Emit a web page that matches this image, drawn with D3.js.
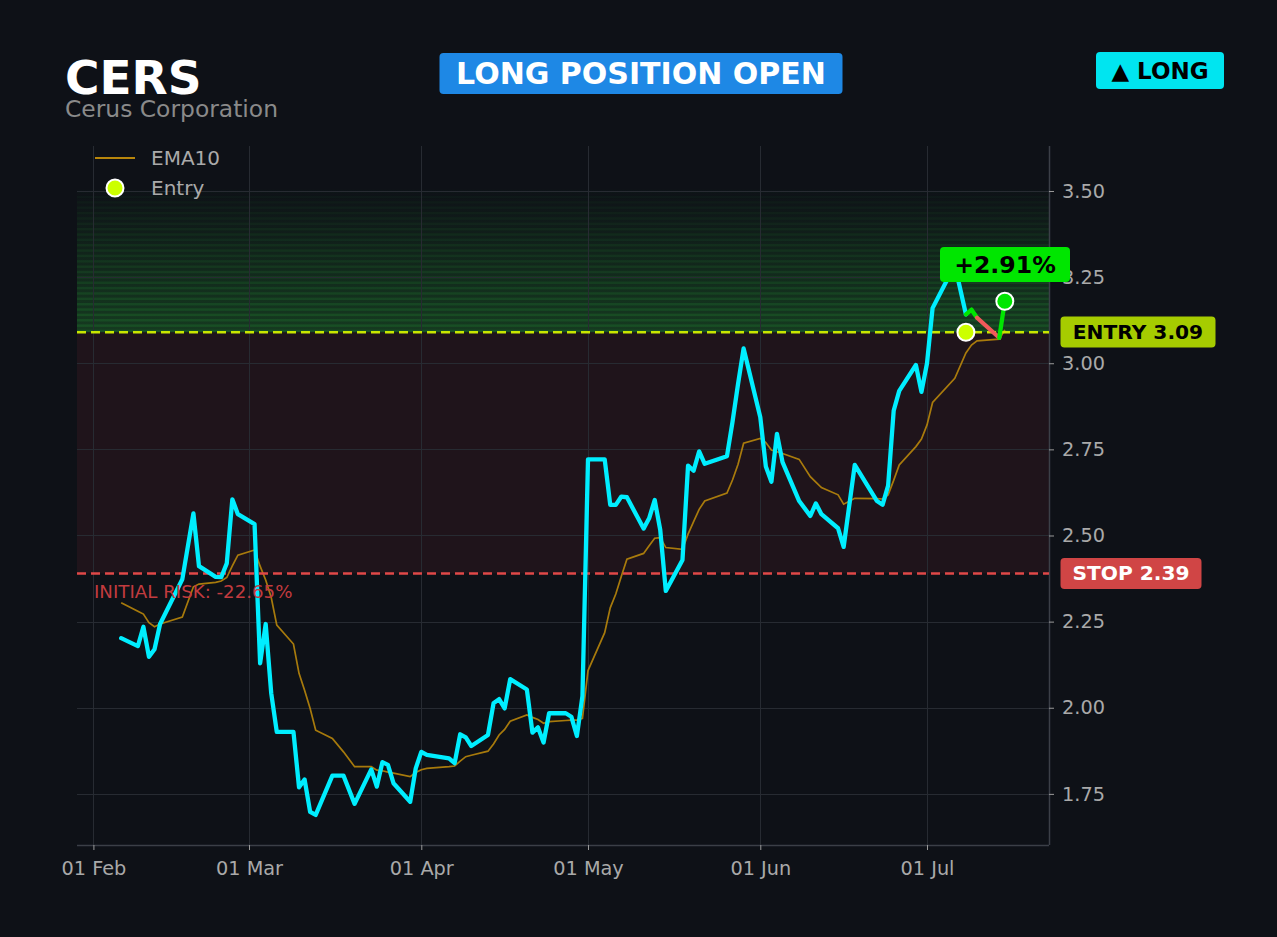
<!DOCTYPE html>
<html><head><meta charset="utf-8">
<script src="https://cdn.jsdelivr.net/npm/d3@7"></script>
<style>html,body{margin:0;padding:0;background:#0e1117;} svg{display:block;font-family:"DejaVu Sans",sans-serif;}</style>
</head><body><svg id="c" width="1277" height="937"></svg>
<script>
const ticker = "CERS";
const company = "Cerus Corporation";
const dates = ["2026-02-06","2026-02-09","2026-02-10","2026-02-11","2026-02-12","2026-02-13","2026-02-17","2026-02-19","2026-02-20","2026-02-23","2026-02-24","2026-02-25","2026-02-26","2026-02-27",
"2026-03-02","2026-03-03","2026-03-04","2026-03-05","2026-03-06","2026-03-09","2026-03-10","2026-03-11","2026-03-12","2026-03-13","2026-03-16","2026-03-18","2026-03-20","2026-03-23","2026-03-24","2026-03-25","2026-03-26","2026-03-27","2026-03-30","2026-03-31",
"2026-04-01","2026-04-02","2026-04-06","2026-04-07","2026-04-08","2026-04-09","2026-04-10","2026-04-13","2026-04-14","2026-04-15","2026-04-16","2026-04-17","2026-04-20","2026-04-21","2026-04-22","2026-04-23","2026-04-24","2026-04-27","2026-04-28","2026-04-29","2026-04-30",
"2026-05-01","2026-05-04","2026-05-05","2026-05-06","2026-05-07","2026-05-08","2026-05-11","2026-05-12","2026-05-13","2026-05-14","2026-05-15","2026-05-18","2026-05-19","2026-05-20","2026-05-21","2026-05-22","2026-05-26","2026-05-27","2026-05-28","2026-05-29",
"2026-06-01","2026-06-02","2026-06-03","2026-06-04","2026-06-05","2026-06-08","2026-06-10","2026-06-11","2026-06-12","2026-06-15","2026-06-16","2026-06-18","2026-06-22","2026-06-23","2026-06-24","2026-06-25","2026-06-26","2026-06-29","2026-06-30",
"2026-07-01","2026-07-02","2026-07-06","2026-07-08","2026-07-09","2026-07-10","2026-07-14","2026-07-15"];
const closes = [2.202,2.179,2.235,2.148,2.170,2.243,2.373,2.564,2.411,2.380,2.379,2.419,2.605,2.562,
2.533,2.129,2.243,2.042,1.930,1.930,1.769,1.792,1.698,1.689,1.803,1.803,1.721,1.821,1.771,1.842,1.834,1.781,1.727,1.824,
1.872,1.863,1.853,1.839,1.923,1.914,1.889,1.921,2.013,2.025,1.998,2.083,2.053,1.928,1.943,1.899,1.984,1.984,1.974,1.918,2.034,
2.721,2.721,2.589,2.589,2.613,2.611,2.520,2.550,2.603,2.516,2.339,2.429,2.703,2.688,2.744,2.708,2.730,2.830,2.940,3.043,
2.843,2.700,2.656,2.795,2.713,2.600,2.557,2.593,2.562,2.521,2.467,2.705,2.600,2.589,2.645,2.862,2.920,2.995,2.917,
3.000,3.160,3.285,3.142,3.155,3.132,3.074,3.180];
const ema10 = [2.305,2.280,2.272,2.247,2.235,2.243,2.263,2.351,2.359,2.364,2.368,2.378,2.412,2.443,
2.458,2.411,2.371,2.320,2.240,2.185,2.100,2.051,1.998,1.935,1.911,1.872,1.829,1.829,1.819,1.817,1.813,1.810,1.800,1.812,
1.820,1.824,1.829,1.831,1.845,1.858,1.862,1.874,1.895,1.921,1.937,1.961,1.979,1.972,1.966,1.955,1.960,1.963,1.964,1.964,1.969,
2.108,2.218,2.290,2.330,2.382,2.431,2.448,2.470,2.492,2.494,2.465,2.460,2.504,2.540,2.576,2.600,2.623,2.661,2.707,2.768,
2.782,2.770,2.748,2.743,2.738,2.721,2.671,2.655,2.639,2.618,2.591,2.608,2.607,2.606,2.618,2.660,2.705,2.758,2.780,
2.821,2.886,2.956,3.030,3.053,3.065,3.070,3.097];
const entryDate = "2026-07-08";
const entryPrice = 3.09;
const stopPrice = 2.39;
const targetZoneTop = 3.51;
const yTickValues = [1.75, 2.00, 2.25, 2.50, 2.75, 3.00, 3.25, 3.50];
const xTickLabels = ["01 Feb", "01 Mar", "01 Apr", "01 May", "01 Jun", "01 Jul"];
const yDomain = [1.6016, 3.6306];

const parse = d3.utcParse("%Y-%m-%d");
const data = dates.map((d, i) => ({date: parse(d), close: closes[i], ema: ema10[i]}));
const entryIdx = dates.indexOf(entryDate);
const last = data[data.length - 1];
const pnl = (last.close / entryPrice - 1) * 100;
const risk = (stopPrice / entryPrice - 1) * 100;

const L = 77, R = 1049, T = 146, B = 845;
const t0 = data[0].date, t1 = last.date, pad = (t1 - t0) * 0.05;
const x = d3.scaleUtc().domain([new Date(+t0 - pad), new Date(+t1 + pad)]).range([L, R]);
const y = d3.scaleLinear().domain(yDomain).range([B, T]);

const svg = d3.select("#c");
const defs = svg.append("defs");
svg.append("rect").attr("width", 1277).attr("height", 937).attr("fill", "#0e1117");

// risk zone
svg.append("rect").attr("x", L).attr("width", R - L)
  .attr("y", y(entryPrice)).attr("height", y(stopPrice) - y(entryPrice))
  .attr("fill", "#dc3c46").attr("opacity", 0.085);

// target gradient band
const nStrips = 27;
const stripVals = d3.range(nStrips + 1).map(i => entryPrice + (targetZoneTop - entryPrice) * i / nStrips);
const lg = defs.append("linearGradient").attr("id", "bandGrad").attr("x1", 0).attr("x2", 0).attr("y1", 0).attr("y2", 1);
lg.append("stop").attr("offset", "0%").attr("stop-color", "#2ecc40").attr("stop-opacity", 0.0);
lg.append("stop").attr("offset", "100%").attr("stop-color", "#2ecc40").attr("stop-opacity", 0.22);
const band = svg.append("g");
band.append("rect").attr("x", L).attr("width", R - L)
  .attr("y", y(targetZoneTop)).attr("height", y(entryPrice) - y(targetZoneTop))
  .attr("fill", "url(#bandGrad)");
for (let i = 0; i < nStrips; i++) {
  const yb = y(stripVals[i]);
  const frac = 1 - i / nStrips;
  band.append("rect").attr("x", L).attr("width", R - L)
    .attr("y", yb - 2.5).attr("height", 2.5)
    .attr("fill", "#2ecc40").attr("opacity", 0.02 + 0.14 * frac);
}

// grid
const grid = svg.append("g").attr("stroke", "#272b32").attr("stroke-width", 1);
const xTicks = xTickLabels.map(s => d3.utcParse("%d %b %Y")(s + " 2026"));
grid.selectAll("line.v").data(xTicks).join("line")
  .attr("x1", d => Math.round(x(d)) + 0.5).attr("x2", d => Math.round(x(d)) + 0.5).attr("y1", T).attr("y2", B);
grid.selectAll("line.h").data(yTickValues).join("line")
  .attr("y1", d => Math.round(y(d)) + 0.5).attr("y2", d => Math.round(y(d)) + 0.5).attr("x1", L).attr("x2", R);

// axes
const xAxis = d3.axisBottom(x).tickValues(xTicks).tickFormat(d3.utcFormat("%d %b")).tickSize(5).tickPadding(8);
const yAxis = d3.axisRight(y).tickValues(yTickValues).tickFormat(d3.format(".2f")).tickSize(5).tickPadding(8);
const gx = svg.append("g").attr("transform", `translate(0,${B})`).call(xAxis);
const gy = svg.append("g").attr("transform", `translate(${R},0)`).call(yAxis);
[gx, gy].forEach(g => {
  g.select(".domain").attr("stroke", "#3b3f47").attr("stroke-width", 1.5);
  g.selectAll(".tick line").attr("stroke", "#9a9a9a");
  g.selectAll(".tick text").attr("fill", "#a9a9a9").attr("font-size", 19.3).attr("font-family", "DejaVu Sans");
});
gy.select(".domain").attr("d", `M0.5,${T}V${B}`);
gx.select(".domain").attr("d", `M${L},0.5H${R}`);
gx.selectAll(".tick text").attr("dy", "0.9em");

// EMA
const line = d3.line().x(d => x(d.date));
svg.append("path").datum(data)
  .attr("d", line.y(d => y(d.ema)))
  .attr("fill", "none").attr("stroke", "#b8860b").attr("stroke-width", 1.7).attr("opacity", 0.9);

// stop / entry lines
svg.append("line").attr("x1", L).attr("x2", R).attr("y1", y(stopPrice)).attr("y2", y(stopPrice))
  .attr("stroke", "#e04848").attr("stroke-width", 2.5).attr("stroke-dasharray", "9,5");
svg.append("line").attr("x1", L).attr("x2", R).attr("y1", y(entryPrice)).attr("y2", y(entryPrice))
  .attr("stroke", "#c8e600").attr("stroke-width", 2.5).attr("stroke-dasharray", "9,5");

// price line (pre-entry)
const pline = d3.line().x(d => x(d.date)).y(d => y(d.close)).curve(d3.curveLinear);
svg.append("path").datum(data.slice(0, entryIdx + 1))
  .attr("d", pline).attr("fill", "none").attr("stroke", "#00eeff")
  .attr("stroke-width", 4.3).attr("stroke-linejoin", "round").attr("stroke-linecap", "round");

// post-entry segments
for (let i = entryIdx; i < data.length - 1; i++) {
  const a = data[i], b = data[i + 1];
  svg.append("line").attr("x1", x(a.date)).attr("y1", y(a.close)).attr("x2", x(b.date)).attr("y2", y(b.close))
    .attr("stroke", b.close >= entryPrice ? "#00e600" : "#f05a5a").attr("stroke-width", 4.3).attr("stroke-linecap", "round");
}

// markers
svg.append("circle").attr("cx", x(data[entryIdx].date)).attr("cy", y(entryPrice)).attr("r", 8.5)
  .attr("fill", "#ccff00").attr("stroke", "#ffffff").attr("stroke-width", 2);
svg.append("circle").attr("cx", x(last.date)).attr("cy", y(last.close)).attr("r", 8.5)
  .attr("fill", "#00e600").attr("stroke", "#ffffff").attr("stroke-width", 2);

// labels helper
function badge(cx, cy, w, h, fill, text, color, size) {
  const g = svg.append("g");
  g.append("rect").attr("x", cx - w / 2).attr("y", cy - h / 2).attr("width", w).attr("height", h)
    .attr("rx", 4).attr("fill", fill);
  g.append("text").attr("x", cx).attr("y", cy).attr("text-anchor", "middle").attr("dominant-baseline", "central")
    .attr("fill", color).attr("font-weight", "bold").attr("font-size", size).text(text);
  return g;
}
badge(1005, 264.5, 130, 35, "#00e600", (pnl >= 0 ? "+" : "") + pnl.toFixed(2) + "%", "#000000", 23.6);
badge(1138, 332, 155, 31, "#a6cc00", "ENTRY " + entryPrice.toFixed(2), "#000000", 20.2);
badge(1131, y(stopPrice), 141, 31, "#d04545", "STOP " + stopPrice.toFixed(2), "#ffffff", 20.2);

svg.append("text").attr("x", 94).attr("y", 598).attr("fill", "#c23b3f").attr("font-size", 18.2)
  .text("INITIAL RISK: " + risk.toFixed(2) + "%");

// title
svg.append("text").attr("x", 65).attr("y", 94).attr("fill", "#ffffff").attr("font-weight", "bold").attr("font-size", 47).text(ticker);
svg.append("text").attr("x", 65).attr("y", 117).attr("fill", "#8a8a8a").attr("font-size", 23.4).text(company);
badge(641, 73.5, 403, 41, "#1e88e5", "LONG POSITION OPEN", "#ffffff", 30);
badge(1160, 70.5, 128, 37, "#00e5f0", "▲ LONG", "#000000", 23);

// legend
svg.append("line").attr("x1", 95).attr("x2", 135).attr("y1", 158).attr("y2", 158).attr("stroke", "#b8860b").attr("stroke-width", 2);
svg.append("text").attr("x", 151).attr("y", 165).attr("fill", "#aaaaaa").attr("font-size", 20).text("EMA10");
svg.append("circle").attr("cx", 115).attr("cy", 188).attr("r", 8.5).attr("fill", "#ccff00").attr("stroke", "#ffffff").attr("stroke-width", 2);
svg.append("text").attr("x", 151).attr("y", 195).attr("fill", "#aaaaaa").attr("font-size", 20).text("Entry");
</script></body></html>
